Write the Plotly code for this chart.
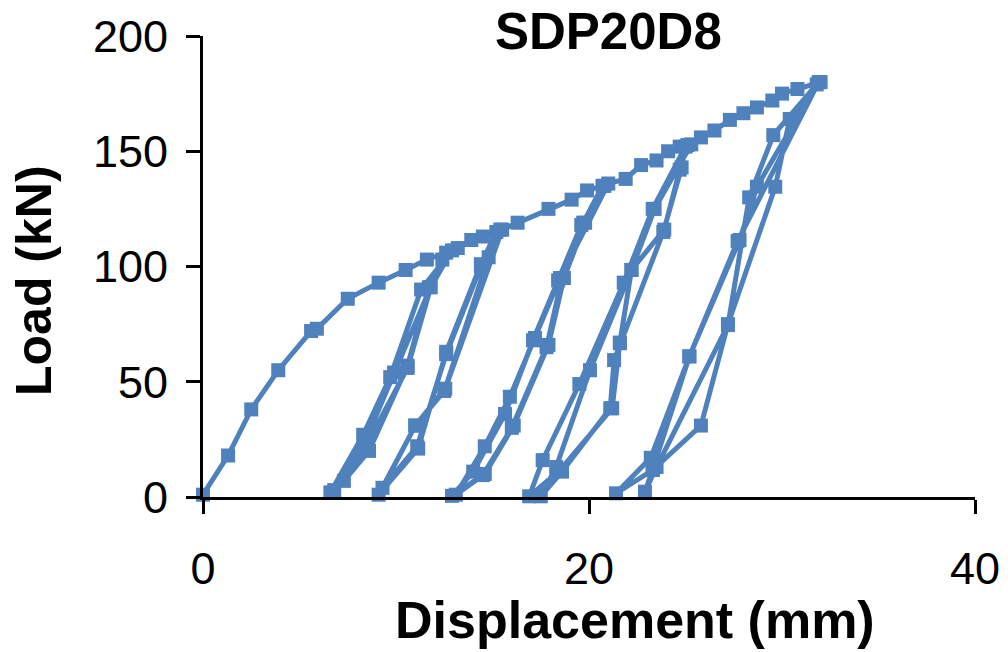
import plotly.graph_objects as go

# ---- data (displacement mm, load kN) ----
env0_x = [0.0, 1.3, 2.5, 3.9, 5.6, 5.9, 7.5, 9.1, 10.5, 11.6, 12.6]
env0_y = [1, 18, 38, 55, 72, 73, 86, 93, 98.5, 103, 106]

cyc1_x = [11.7, 10.6, 8.6, 7.3, 6.6, 8.3, 9.7, 11.3, 12.9, 11.8, 10.6, 8.5, 6.8, 8.5, 9.9, 12.4, 13.2]
cyc1_y = [91, 57, 20, 7, 2, 27, 52, 90, 107, 91, 56, 23, 3, 26, 54, 103, 108]

env1_x = [13.9, 14.5, 15.2]
env1_y = [111.5, 113, 115]

cyc2_x = [14.4, 12.6, 11.15, 9.1, 11.0, 12.5, 14.8, 15.4, 14.4, 12.6, 11.1, 9.3, 11.0, 12.55, 15.5]
cyc2_y = [101, 63, 21, 1, 31, 46, 104, 116, 100, 62, 22, 4, 31, 47, 116]

env2_x = [16.3, 17.9, 19.1, 19.9, 20.7]
env2_y = [119, 125, 129, 133, 135]

cyc3_x = [19.7, 18.6, 17.8, 16.0, 14.5, 12.9, 14.0, 15.65, 17.1, 18.4, 19.6, 20.8,
          19.8, 18.7, 17.9, 16.1, 14.6, 13.1, 14.6, 15.9, 17.2, 18.5, 21.0]
cyc3_y = [119, 95, 65, 30, 9.5, 0.5, 11, 36, 68, 94, 118, 135,
          119, 95, 66, 31, 10, 1, 22, 43.5, 69, 95, 136]

env3_x = [21.9, 22.7, 23.5, 24.1, 24.7, 25.1]
env3_y = [138, 144, 146, 150, 152, 152.7]

cyc4_x = [24.7, 23.9, 22.2, 21.6, 21.2, 18.5, 16.9, 17.6, 19.5, 21.8, 23.3, 25.0,
          24.8, 23.85, 21.6, 21.3, 21.1, 18.6, 17.5, 18.3, 20.05, 22.2, 23.4, 25.3]
cyc4_y = [142, 116, 98.5, 67, 38.5, 11.7, 0.3, 16, 49, 93, 125, 152,
          143, 115, 66.7, 59.4, 38.5, 11, 0.3, 13, 55, 98.5, 125, 153]

env4_x = [25.8, 26.5, 27.3, 28.0, 28.7, 29.5, 30.0, 30.8, 32.0]
env4_y = [156, 159, 163.6, 166.5, 169, 172, 175, 177, 180]

cyc5_x = [30.4, 29.65, 27.2, 25.8, 23.3, 21.4, 23.2, 25.2, 27.8, 28.7, 31.8,
          29.55, 28.3, 27.2, 23.5, 22.9, 23.3, 25.2, 27.7, 31.9]
cyc5_y = [164, 134.6, 75, 31, 11.7, 1.6, 17, 61, 111.5, 134.6, 179,
          157, 130, 74.6, 13, 2.3, 12, 61, 111, 180]

x_ticks = [0, 20, 40]
y_ticks = [0, 50, 100, 150, 200]

disp = env0_x + cyc1_x + env1_x + cyc2_x + env2_x + cyc3_x + env3_x + cyc4_x + env4_x + cyc5_x
load = env0_y + cyc1_y + env1_y + cyc2_y + env2_y + cyc3_y + env3_y + cyc4_y + env4_y + cyc5_y

BLUE = "#4F81BD"
FONT = "Liberation Sans, Arial, sans-serif"

W, H = 1008, 652
L, R, T, B = 203, 33, 36, 155

fig = go.Figure()
fig.add_trace(go.Scatter(
    x=disp, y=load, mode="lines+markers",
    line=dict(color=BLUE, width=5),
    marker=dict(symbol="square", size=14, color=BLUE),
    cliponaxis=False, showlegend=False,
))

axis_common = dict(
    showline=True, linecolor="black", linewidth=3,
    ticks="outside", ticklen=14, tickwidth=3, tickcolor="black",
    showgrid=False, zeroline=False, automargin=False,
    tickfont=dict(family=FONT, size=45, color="black"),
)

fig.update_xaxes(range=[0, 40], tickvals=x_ticks, ticklabelstandoff=16, **axis_common)
fig.update_yaxes(range=[0, 200], tickvals=y_ticks, ticklabelstandoff=9, **axis_common)

pw = W - L - R
ph = H - T - B


def px2paper(px, py):
    return (px - L) / pw, ((H - py) - B) / ph


annots = [
    ("SDP20D8", 608, 32, 51, 0),
    ("Displacement (mm)", 635, 620, 52, 0),
    ("Load (kN)", 34, 281, 50, -90),
]
ann = []
for text, px, py, size, ang in annots:
    ax, ay = px2paper(px, py)
    ann.append(dict(text=text, x=ax, y=ay, xref="paper", yref="paper",
                    xanchor="center", yanchor="middle", textangle=ang,
                    showarrow=False,
                    font=dict(family=FONT, size=size, color="black", weight="bold")))

fig.update_layout(
    width=W, height=H,
    margin=dict(l=L, r=R, t=T, b=B, autoexpand=False),
    paper_bgcolor="white", plot_bgcolor="white",
    annotations=ann,
)

fig.write_html(
    "out.html",
    config={"displayModeBar": False},
    post_script="document.body.style.margin='0';document.body.style.overflow='hidden';",
)
